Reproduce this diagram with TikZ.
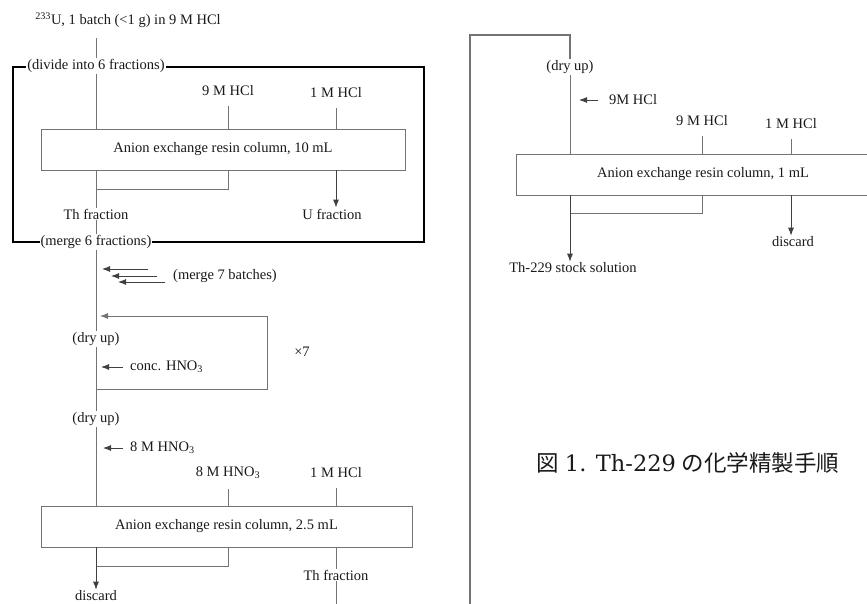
\documentclass[tikz,border=0pt]{standalone}
\usepackage{fontspec}
\setmainfont{Liberation Serif}
\newfontfamily\cjk{Noto Sans CJK JP}
\newfontfamily\capfont{DejaVu Serif}
\usetikzlibrary{arrows.meta}
\begin{document}
\begin{tikzpicture}[x=1pt, y=-1pt,
    lbl/.style={font=\fontsize{14.5}{17}\selectfont, text=black!90, inner sep=1pt},
    flow/.style={draw=black!55, line width=0.9pt},
    feed/.style={flow, shorten <=9pt},
    arr/.style={flow, draw=black!75, -{Latex[length=8pt, width=6pt]}},
    col/.style={draw=black!55, line width=0.9pt, minimum height=41pt, inner sep=0pt,
                font=\fontsize{14.5}{17}\selectfont, text=black!90},
    frame/.style={draw=black, line width=2.2pt}]
    \useasboundingbox (0,0) rectangle (867,604);

    % Thick frame round the 10 mL column (6 fractions)
    \draw[frame] (13,67) rectangle (424,242);

    % First column: 10 mL
    \node[lbl] (feed) at (128,20) {\textsuperscript{233}U, 1 batch (<1 g) in 9 M HCl};
    \node[lbl, fill=white] (divide) at (96,66) {(divide into 6 fractions)};
    \node[lbl] (rinse1) at (228,91) {9 M HCl};
    \node[lbl] (elute1) at (336,93) {1 M HCl};
    \node[col, minimum width=364pt] (col1) at (223,149.5) {Anion exchange resin column, 10 mL};
    \node[lbl] (thfrac1) at (96,214) {Th fraction};
    \node[lbl] (ufrac) at (332,214) {U fraction};
    \node[lbl, fill=white] (merge6) at (96,242) {(merge 6 fractions)};
    \coordinate (feedfoot) at (96,38);
    \coordinate (join1) at (96,189);

    \draw[flow] (feedfoot) -- (divide.north);
    \draw[flow] (divide.south) -- (col1.north -| divide);
    \draw[feed] (rinse1.south) -- (col1.north -| rinse1);
    \draw[feed] (elute1.south) -- (col1.north -| elute1);
    \draw[flow] (col1.south -| divide) -- (thfrac1.north);
    \draw[flow] (col1.south -| rinse1) |- (join1);
    \draw[arr] (col1.south -| elute1) -- (ufrac.north -| elute1);
    \draw[flow] (thfrac1.south) -- (merge6.north);

    % Merge batches, dry up with conc. HNO3 (x7)
    \node[lbl, anchor=west] (merge7) at (172,276) {(merge 7 batches)};
    \foreach \i/\y/\xs/\xe in {1/269/148/102, 2/276/157/111, 3/282/165/118} {
        \coordinate (ms\i) at (\xs,\y);
        \coordinate (me\i) at (\xe,\y);
        \draw[arr] (ms\i) -- (me\i);
    }
    \node[lbl] (dryup1) at (96,339) {(dry up)};
    \node[lbl, anchor=west] (conc) at (129,367) {conc. HNO\textsubscript{3}};
    \node[lbl] (repeat) at (302,352) {×7};
    \coordinate (loopout) at (96,389);
    \coordinate (loopbr) at (267,389);
    \coordinate (looptr) at (267,316);
    \coordinate (loopin) at (100,316);

    \draw[flow] (merge6.south) -- (dryup1.north);
    \draw[arr, draw=black!55] (loopout) -- (loopbr) -- (looptr) -- (loopin);
    \draw[arr] (conc.west) ++(-6,0) -- ++(-22,0);

    % Second column: 2.5 mL
    \node[lbl] (dryup2) at (96,419) {(dry up)};
    \node[lbl, anchor=west] (acid1) at (129,448) {8 M HNO\textsubscript{3}};
    \node[lbl] (rinse3) at (228,473) {8 M HNO\textsubscript{3}};
    \node[lbl] (elute3) at (336,473) {1 M HCl};
    \node[col, minimum width=371pt] (col3) at (226.5,526.5) {Anion exchange resin column, 2.5 mL};
    \node[lbl] (thfrac2) at (336,575) {Th fraction};
    \node[lbl] (discard1) at (96,596) {discard};
    \coordinate (join3) at (96,566);
    \coordinate (thbot) at (336,612);

    \draw[flow] (dryup1.south) -- (dryup2.north);
    \draw[flow] (dryup2.south) -- (col3.north -| dryup2);
    \draw[arr] (acid1.west) ++(-6,0) -- ++(-20,0);
    \draw[feed] (rinse3.south) -- (col3.north -| rinse3);
    \draw[feed] (elute3.south) -- (col3.north -| elute3);
    \draw[flow] (col3.south -| rinse3) |- (join3);
    \draw[arr] (col3.south -| dryup2) -- (discard1.north);
    \draw[flow] (col3.south -| elute3) -- (thfrac2.north);
    \draw[flow] (thfrac2.south) -- (thbot);

    % Third column: 1 mL
    \coordinate (divbot) at (470,610);
    \coordinate (divtop) at (470,35);
    \coordinate (divturn) at (570,35);
    \node[lbl] (dryup3) at (570,67) {(dry up)};
    \node[lbl, anchor=west] (acid2) at (608,100) {9M HCl};
    \node[lbl] (rinse2) at (702,121) {9 M HCl};
    \node[lbl] (elute2) at (791,124) {1 M HCl};
    \node[col, minimum width=374pt] (col2) at (703,174.5) {Anion exchange resin column, 1 mL};
    \node[lbl] (stock) at (573,268) {Th-229 stock solution};
    \node[lbl] (discard2) at (793,242) {discard};
    \coordinate (join2) at (570,213);

    \draw[flow, line width=1.3pt] (divbot) -- (divtop) -- (divturn) -- (dryup3.north);
    \draw[flow] (dryup3.south) -- (col2.north -| dryup3);
    \draw[arr] (acid2.west) ++(-10,0) -- ++(-19,0);
    \draw[feed] (rinse2.south) -- (col2.north -| rinse2);
    \draw[feed] (elute2.south) -- (col2.north -| elute2);
    \draw[flow] (col2.south -| rinse2) |- (join2);
    \draw[arr] (col2.south -| dryup3) -- (stock.north -| dryup3);
    \draw[arr] (col2.south -| elute2) -- (discard2.north -| elute2);

    % Caption
    \node[font=\fontsize{22.5}{26}\selectfont, text=black!90] (caption) at (688,463)
        {{\cjk 図} {\capfont 1. Th-229} {\cjk の化学精製手順}};
\end{tikzpicture}
\end{document}
